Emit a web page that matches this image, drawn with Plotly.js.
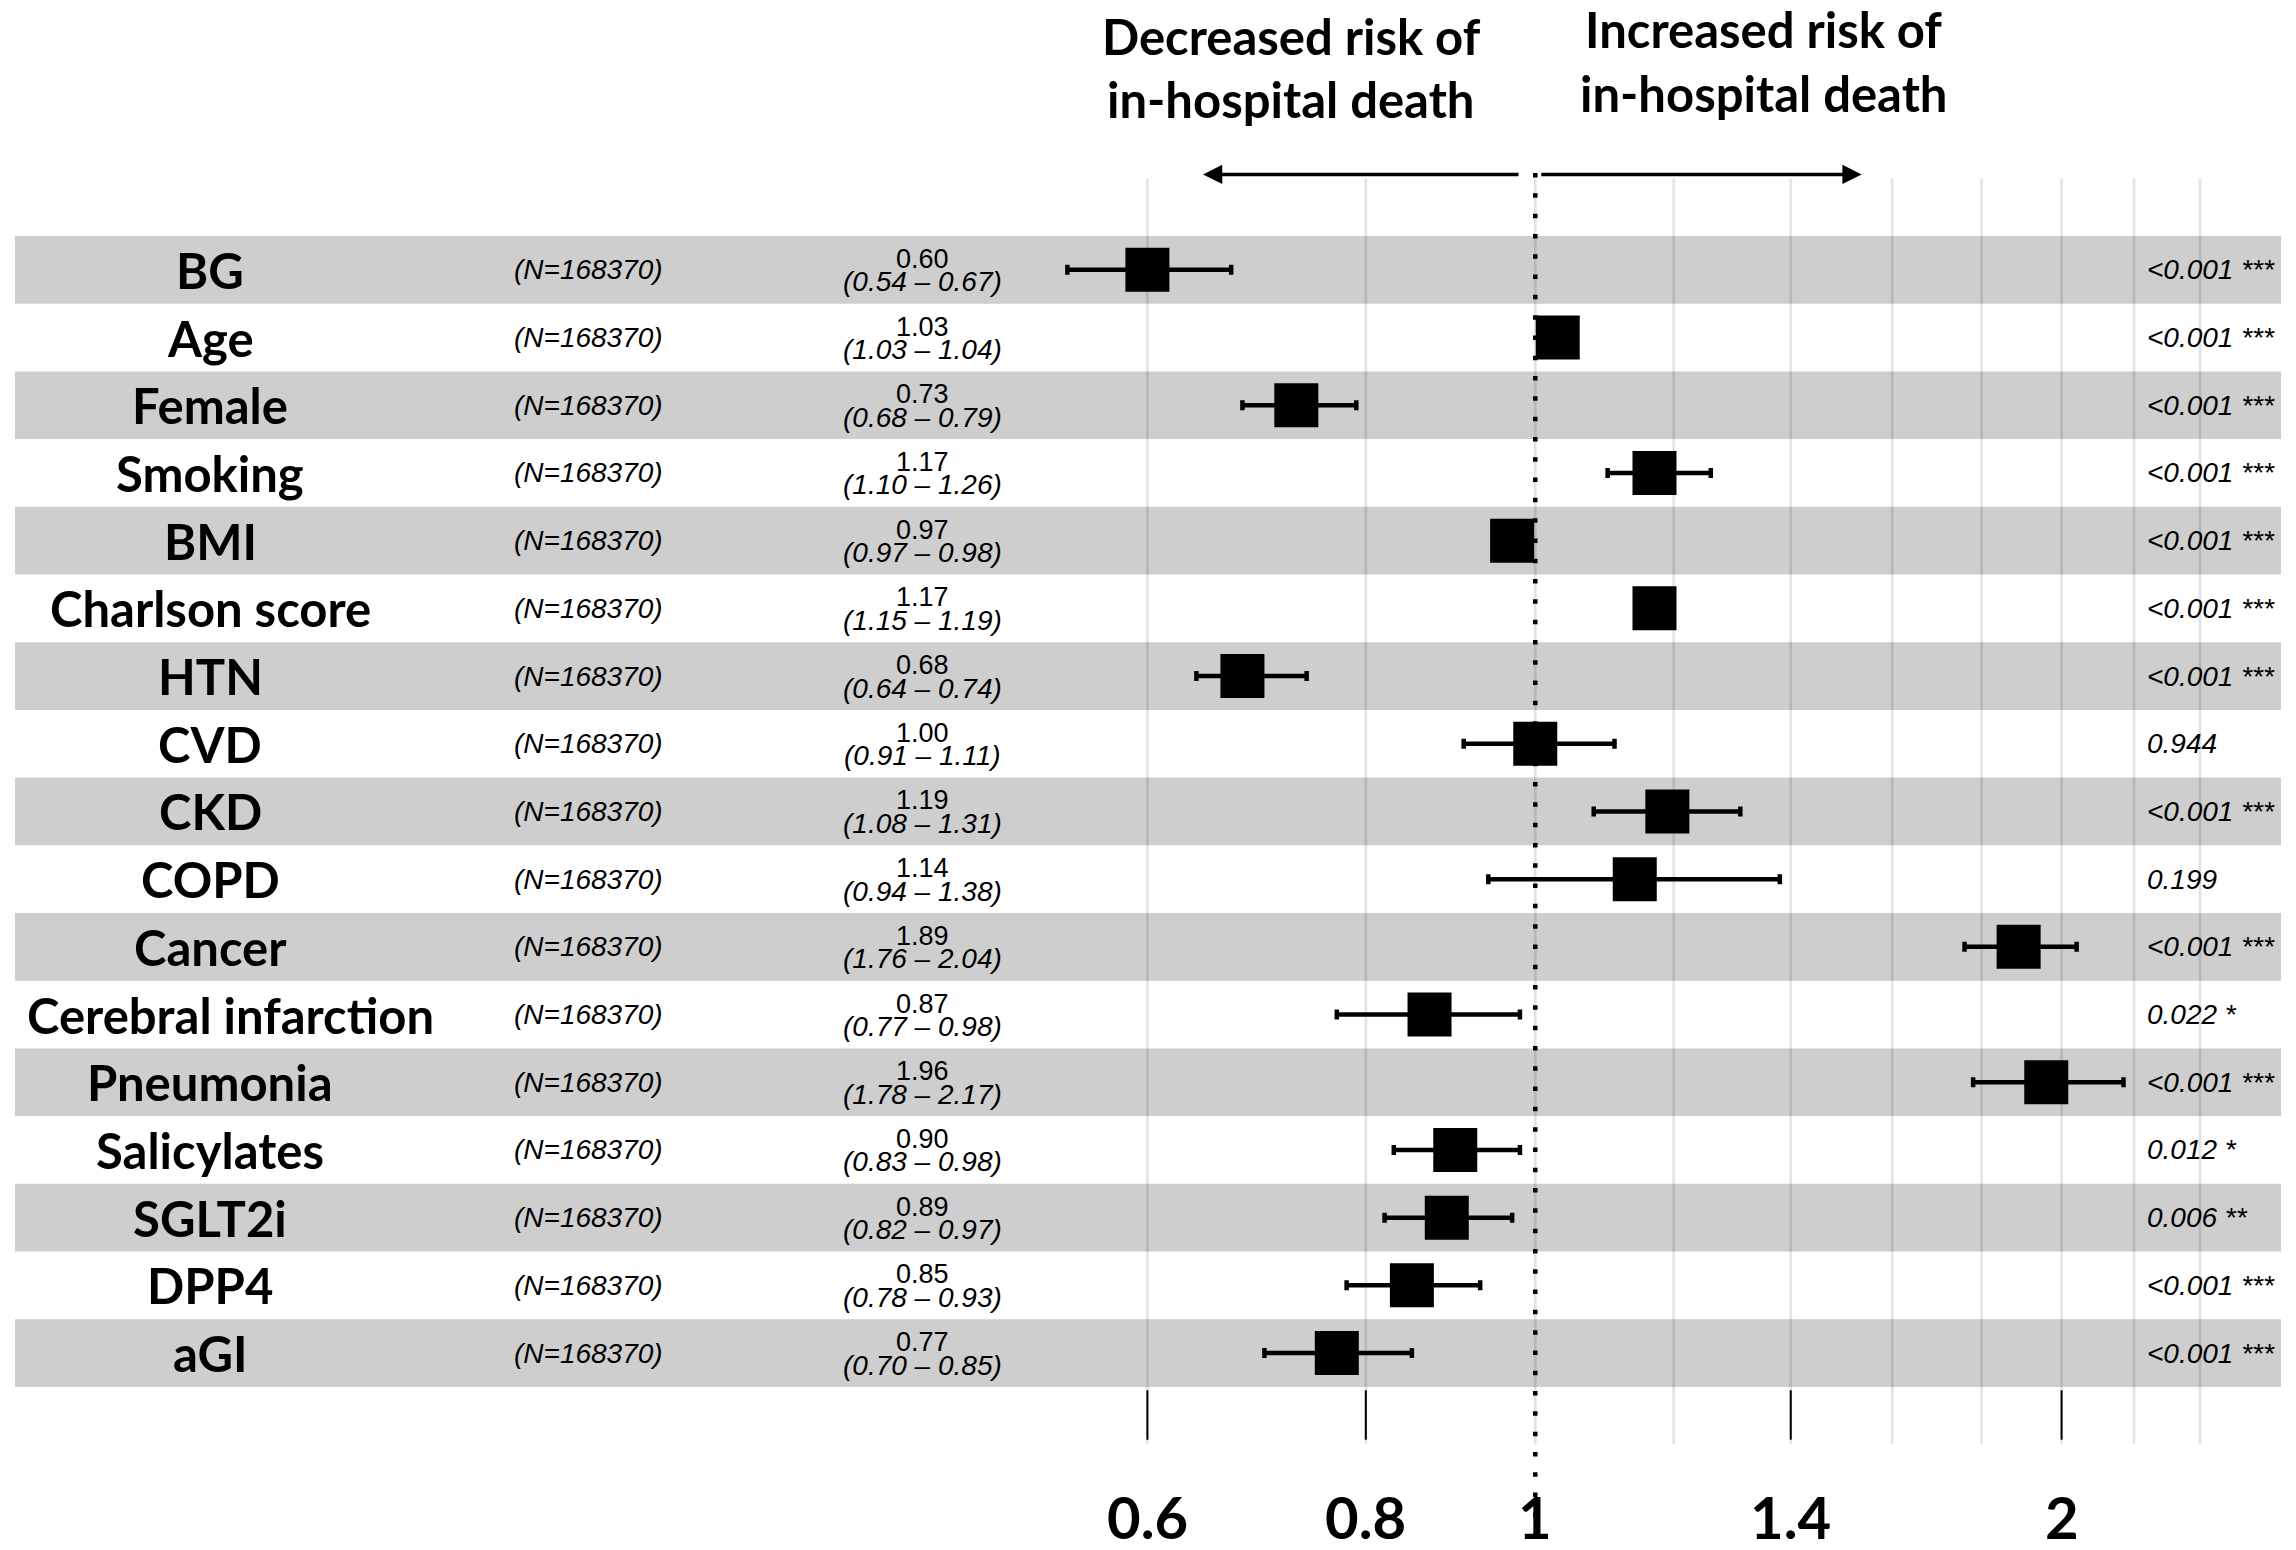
<!DOCTYPE html>
<html>
<head>
<meta charset="utf-8">
<script src="https://cdn.plot.ly/plotly-3.0.1.min.js"></script>
<style>html,body{margin:0;padding:0;background:#fff;}#chart{width:2296px;height:1550px;}</style>
</head>
<body>
<div id="chart"></div>
<script>
// ---- data ----
const variables = ['BG','Age','Female','Smoking','BMI','Charlson score','HTN','CVD','CKD','COPD','Cancer','Cerebral infarction','Pneumonia','Salicylates','SGLT2i','DPP4','aGI'];
const nLabels = ['(N=168370)','(N=168370)','(N=168370)','(N=168370)','(N=168370)','(N=168370)','(N=168370)','(N=168370)','(N=168370)','(N=168370)','(N=168370)','(N=168370)','(N=168370)','(N=168370)','(N=168370)','(N=168370)','(N=168370)'];
const hr = [0.60,1.03,0.73,1.17,0.97,1.17,0.68,1.00,1.19,1.14,1.89,0.87,1.96,0.90,0.89,0.85,0.77];
const ciLow = [0.54,1.03,0.68,1.10,0.97,1.15,0.64,0.91,1.08,0.94,1.76,0.77,1.78,0.83,0.82,0.78,0.70];
const ciHigh = [0.67,1.04,0.79,1.26,0.98,1.19,0.74,1.11,1.31,1.38,2.04,0.98,2.17,0.98,0.97,0.93,0.85];
const pLabels = ['<0.001 ***','<0.001 ***','<0.001 ***','<0.001 ***','<0.001 ***','<0.001 ***','<0.001 ***','0.944','<0.001 ***','0.199','<0.001 ***','0.022 *','<0.001 ***','0.012 *','0.006 **','<0.001 ***','<0.001 ***'];
const gridVals = [0.6,0.8,1,1.2,1.4,1.6,1.8,2.0,2.2,2.4];
const tickVals = [0.6,0.8,1,1.4,2];
const tickText = ['0.6','0.8','1','1.4','2'];
const headerLeft = ['Decreased risk of','in-hospital death'];
const headerRight = ['Increased risk of','in-hospital death'];

// ---- style ----
const W = 2296, H = 1550;
const boldFont = 'Lato, "Open Sans", sans-serif';
const smallFont = '"Liberation Sans", Arial, sans-serif';
const idx = variables.map((v,i)=>i);
const fmt2 = v => v.toFixed(2);
const labelCenter = 210, labelMinLeft = 25;

const trace = {
  type:'scatter', mode:'markers',
  x: hr, y: idx,
  marker:{symbol:'square', size:44, color:'#000', line:{width:0}},
  error_x:{type:'data', symmetric:false,
    array: hr.map((h,i)=>ciHigh[i]-h),
    arrayminus: hr.map((h,i)=>h-ciLow[i]),
    color:'#000', thickness:4.5, width:5},
  hoverinfo:'skip', showlegend:false
};

const shapes = [];
// row bands
idx.forEach(i=>{
  if(i%2===0){
    shapes.push({type:'rect', layer:'below', xref:'paper', yref:'y',
      x0:15/W, x1:2281/W, y0:i-0.5, y1:i+0.5,
      fillcolor:'#cecece', line:{width:0}});
  }
});
// gridlines
gridVals.forEach(v=>{
  shapes.push({type:'line', layer:'below', xref:'x', yref:'y',
    x0:v, x1:v, y0:-1.35, y1:17.34,
    line:{color:'rgba(0,0,0,0.11)', width:2.7}});
});
// tick marks
tickVals.filter(v=>v!==1).forEach(v=>{
  shapes.push({type:'line', layer:'below', xref:'x', yref:'y',
    x0:v, x1:v, y0:16.55, y1:17.28,
    line:{color:'#000', width:2}});
});
// reference dotted line
shapes.push({type:'line', layer:'below', xref:'x', yref:'y',
  x0:1, x1:1, y0:-1.43, y1:18.92,
  line:{color:'#000', width:4.5, dash:'4.5px,15.8px'}});

const annotations = [];
const labelAnnIdx = [];
idx.forEach(i=>{
  labelAnnIdx.push(annotations.length);
  annotations.push({xref:'paper', yref:'y', x:labelCenter/W, y:i, text:variables[i], showarrow:false,
    xanchor:'center', yanchor:'middle', font:{family:boldFont, size:49, weight:700, color:'#000'}});
  annotations.push({xref:'paper', yref:'y', x:588/W, y:i, text:nLabels[i], showarrow:false,
    xanchor:'center', yanchor:'middle', font:{family:smallFont, size:28, style:'italic', color:'#000'}});
  annotations.push({xref:'paper', yref:'y', x:922/W, y:i, yshift:11, text:fmt2(hr[i]), showarrow:false,
    xanchor:'center', yanchor:'middle', font:{family:smallFont, size:27, color:'#000'}});
  annotations.push({xref:'paper', yref:'y', x:922/W, y:i, yshift:-12, text:'('+fmt2(ciLow[i])+' \u2013 '+fmt2(ciHigh[i])+')', showarrow:false,
    xanchor:'center', yanchor:'middle', font:{family:smallFont, size:28, style:'italic', color:'#000'}});
  annotations.push({xref:'paper', yref:'y', x:2145/W, y:i, text:pLabels[i], showarrow:false,
    xanchor:'left', yanchor:'middle', font:{family:smallFont, size:28, style:'italic', color:'#000'}});
});
// x tick labels
tickVals.forEach((v,k)=>{
  annotations.push({xref:'x', yref:'paper', x:Math.log10(v), y:1-1516/H, text:tickText[k], showarrow:false,
    xanchor:'center', yanchor:'middle', font:{family:boldFont, size:58, weight:700, color:'#000'}});
});
// headers
headerLeft.forEach((t,k)=>{
  annotations.push({xref:'x', yref:'paper', x:Math.log10(0.725), y:1-(36+63*k)/H, text:t, showarrow:false,
    xanchor:'center', yanchor:'middle', font:{family:boldFont, size:49, weight:700, color:'#000'}});
});
headerRight.forEach((t,k)=>{
  annotations.push({xref:'x', yref:'paper', x:Math.log10(1.351), y:1-(29+64*k)/H, text:t, showarrow:false,
    xanchor:'center', yanchor:'middle', font:{family:boldFont, size:49, weight:700, color:'#000'}});
});
// direction arrows
annotations.push({xref:'x', yref:'y', axref:'x', ayref:'y',
  x:Math.log10(0.6456), y:-1.41, ax:Math.log10(0.980), ay:-1.41,
  text:'', showarrow:true, arrowhead:2, arrowsize:1.1, arrowwidth:3.5, arrowcolor:'#000', standoff:0, startstandoff:0});
annotations.push({xref:'x', yref:'y', axref:'x', ayref:'y',
  x:Math.log10(1.537), y:-1.41, ax:Math.log10(1.006), ay:-1.41,
  text:'', showarrow:true, arrowhead:2, arrowsize:1.1, arrowwidth:3.5, arrowcolor:'#000', standoff:0, startstandoff:0});

const layout = {
  width:W, height:H,
  margin:{l:0,r:0,t:0,b:0,pad:0},
  paper_bgcolor:'#fff', plot_bgcolor:'#fff',
  showlegend:false,
  xaxis:{type:'log', range:[-0.8781, 0.4351], showgrid:false, zeroline:false, showticklabels:false, ticks:'', showline:false, fixedrange:true},
  yaxis:{range:[18.909, -3.986], showgrid:false, zeroline:false, showticklabels:false, ticks:'', showline:false, fixedrange:true},
  shapes:shapes,
  annotations:annotations
};

Plotly.newPlot('chart', [trace], layout, {staticPlot:true, displayModeBar:false}).then(gd=>{
  // keep wide row labels inside the table's left edge (left-align them there)
  const groups = gd.querySelectorAll('.annotation');
  const upd = {};
  labelAnnIdx.forEach(k=>{
    const g = groups[k];
    if(!g) return;
    const t = g.querySelector('text');
    if(!t) return;
    const w = t.getBBox().width;
    if(labelCenter - w/2 < labelMinLeft){
      upd['annotations['+k+'].xanchor'] = 'left';
      upd['annotations['+k+'].x'] = labelMinLeft/W;
    }
  });
  if(Object.keys(upd).length) Plotly.relayout(gd, upd);
});
</script>
</body>
</html>
